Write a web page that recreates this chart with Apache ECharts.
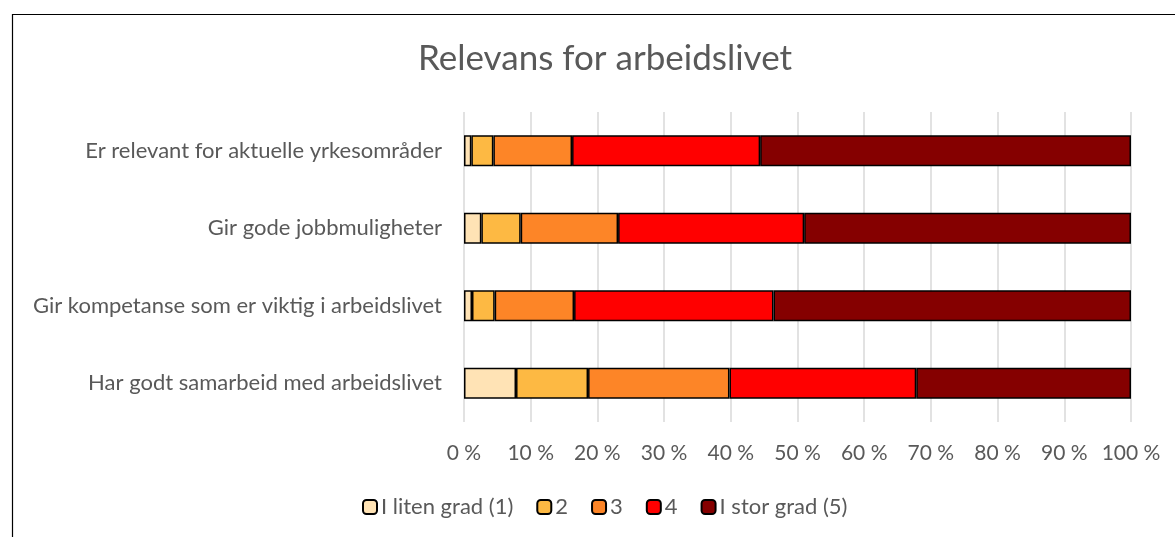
<!DOCTYPE html>
<html>
<head>
<meta charset="utf-8">
<script src="https://cdn.jsdelivr.net/npm/echarts@6/dist/echarts.min.js"></script>
<style>
  html, body { margin: 0; padding: 0; background: #fff; }
  #chart { width: 1175px; height: 537px; }
</style>
</head>
<body>
<div id="chart"></div>
<script>
// kategorier, nederst først (ECharts tegner første kategori nederst)
const categories = [
  'Har godt samarbeid med arbeidslivet',
  'Gir kompetanse som er viktig i arbeidslivet',
  'Gir gode jobbmuligheter',
  'Er relevant for aktuelle yrkesområder'
]
const seriesNames = ['I liten grad (1)', '2', '3', '4', 'I stor grad (5)']
const grad1 = [7.8, 1.2, 2.6, 1.1]
const grad2 = [10.8, 3.4, 5.9, 3.3]
const grad3 = [21.2, 11.9, 14.6, 11.8]
const grad4 = [28.0, 29.9, 27.9, 28.2]
const grad5 = [32.2, 53.6, 49.0, 55.6]
const colors = ['#FFE3B5', '#FDB943', '#FD8527', '#FF0000', '#850000']

const font = 'Lato, "Open Sans", sans-serif'
const values = [grad1, grad2, grad3, grad4, grad5]

const chart = echarts.init(document.getElementById('chart'))
chart.setOption({
  animation: false,
  title: {
    text: 'Relevans for arbeidslivet',
    left: 600,
    top: 36,
    textAlign: 'center',
    textStyle: { fontFamily: font, fontSize: 35, fontWeight: 'normal', color: '#595959' }
  },
  // ramme rundt diagrammet (delvis utenfor bildet)
  graphic: [{
    type: 'polyline',
    shape: { points: [[12.5, 540], [12.5, 14.5], [1180, 14.5]] },
    style: { stroke: '#000', lineWidth: 1.2, fill: null }
  }],
  legend: {
    data: seriesNames,
    left: 357,
    top: 491,
    itemWidth: 14,
    itemHeight: 14,
    itemGap: 23,
    textStyle: { fontFamily: font, fontSize: 22, color: '#595959', padding: [0, 0, 0, -1] }
  },
  grid: { left: 464, right: 44, top: 112, height: 310 },
  xAxis: {
    type: 'value',
    min: 0,
    max: 100,
    interval: 10,
    axisLabel: { formatter: '{value} %', fontFamily: font, fontSize: 21, color: '#595959', margin: 21 },
    splitLine: { show: true, lineStyle: { color: '#d9d9d9', width: 1.5 } },
    axisLine: { show: false },
    axisTick: { show: false }
  },
  yAxis: {
    type: 'category',
    data: categories,
    axisLabel: { fontFamily: font, fontSize: 22, color: '#595959', margin: 22 },
    axisLine: { show: false },
    axisTick: { show: false }
  },
  series: seriesNames.map((name, i) => ({
    name: name,
    type: 'bar',
    stack: 'total',
    barWidth: 31,
    data: values[i],
    itemStyle: { color: colors[i], borderColor: '#000', borderWidth: 1.5 }
  }))
})
</script>
</body>
</html>
